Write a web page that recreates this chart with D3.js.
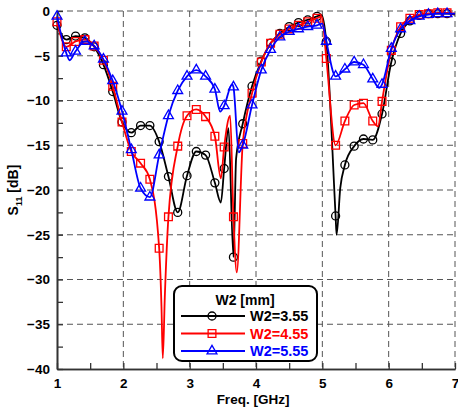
<!DOCTYPE html>
<html>
<head>
<meta charset="utf-8">
<script src="https://cdn.jsdelivr.net/npm/d3@7"></script>
<style>
    body { margin: 0; background: #fff; }
    svg { display: block; font-family: Arial, "Liberation Sans", sans-serif; font-weight: bold; }
</style>
</head>
<body>
<svg id="chart" width="458" height="407"></svg>
<script>
// frequencies where the markers sit (GHz)
const markerFreqs = [1.00, 1.14, 1.28, 1.42, 1.56, 1.70, 1.84, 1.98, 2.12, 2.26, 2.40,
    2.54, 2.68, 2.82, 2.96, 3.10, 3.24, 3.38, 3.52, 3.66, 3.80, 3.94, 4.08, 4.22,
    4.36, 4.50, 4.64, 4.78, 4.92, 5.06, 5.20, 5.34, 5.48, 5.62, 5.76, 5.90, 6.04,
    6.18, 6.32, 6.46, 6.60, 6.74, 6.88];

// S11 (dB) at the marker frequencies
const s11W355 = [-1.6, -3.2, -2.8, -3.0, -4.0, -6.0, -9.0, -12.4, -13.6, -12.8, -12.8,
    -14.6, -18.5, -22.5, -18.4, -15.7, -16.1, -19.2, -17.6, -27.5, -12.6, -8.4, -5.6, -3.6,
    -2.5, -1.75, -1.3, -1.0, -0.6, -3.4, -22.9, -17.2, -15.1, -14.3, -14.4, -11.5, -5.7,
    -2.5, -1.1, -0.5, -0.3, -0.3, -0.3];
const s11W455 = [-1.2, -4.0, -3.4, -3.2, -3.9, -5.5, -8.4, -12.4, -15.7, -17.0, -18.8,
    -26.5, -23.0, -15.1, -11.7, -11.0, -11.8, -14.0, -15.2, -23.0, -14.8, -9.2, -5.7, -3.6,
    -2.6, -2.0, -1.6, -1.2, -0.8, -5.3, -15.0, -12.3, -10.5, -10.3, -12.3, -10.1, -4.4,
    -1.75, -0.8, -0.4, -0.3, -0.2, -0.2];
const s11W555 = [-0.6, -4.7, -4.5, -3.4, -3.9, -5.4, -7.8, -11.2, -15.5, -19.8, -20.8,
    -16.1, -11.7, -8.9, -7.3, -6.6, -7.3, -8.75, -10.6, -8.5, -15.0, -10.5, -6.6, -4.3,
    -2.9, -2.3, -2.0, -1.75, -1.6, -3.4, -7.3, -6.5, -5.7, -6.0, -7.6, -8.2, -4.2,
    -2.0, -1.1, -0.6, -0.4, -0.3, -0.3];

// sharp features between markers [GHz, dB]
const extraW355 = [[3.47, -21.4], [3.585, -13.1], [3.70, -16.5], [4.99, -0.45],
    [5.215, -25.0], [5.27, -19.8], [7.0, -0.4]];
const extraW455 = [[2.575, -33.0], [2.595, -38.8], [2.625, -32.0], [3.47, -18.7],
    [3.61, -11.7], [3.71, -29.2], [4.99, -0.6], [5.84, -12.9], [7.0, -0.3]];
const extraW555 = [[1.19, -5.5], [3.46, -11.25], [3.64, -8.2], [3.74, -15.8],
    [5.0, -1.4], [5.86, -8.6], [7.0, -0.3]];

const seriesNames = ['W2=3.55', 'W2=4.55', 'W2=5.55'];
const xTicks = [1, 2, 3, 4, 5, 6, 7];
const xMinorTicks = [1.5, 2.5, 3.5, 4.5, 5.5, 6.5];
const yTicks = [-40, -35, -30, -25, -20, -15, -10, -5, 0];
const yMinorTicks = [-37.5, -32.5, -27.5, -22.5, -17.5, -12.5, -7.5, -2.5];

const series = [
    { name: seriesNames[0], values: s11W355, extra: extraW355, color: '#000000', marker: 'circle' },
    { name: seriesNames[1], values: s11W455, extra: extraW455, color: '#ff0000', marker: 'square' },
    { name: seriesNames[2], values: s11W555, extra: extraW555, color: '#0000ff', marker: 'triangle' }
];

const svg = d3.select('#chart');
const x = d3.scaleLinear().domain([1, 7]).range([57, 455]);
const y = d3.scaleLinear().domain([-40, 0]).range([369, 11]);

// grid
const grid = svg.append('g')
    .attr('stroke', '#555')
    .attr('stroke-width', 1)
    .attr('stroke-dasharray', '6,4');
grid.selectAll('.vg')
    .data(xTicks.slice(1))
    .enter()
    .append('line')
    .attr('x1', d => x(d)).attr('x2', d => x(d))
    .attr('y1', y(0)).attr('y2', y(-40));
grid.selectAll('.hg')
    .data(yTicks.slice(1))
    .enter()
    .append('line')
    .attr('x1', x(1)).attr('x2', x(7))
    .attr('y1', d => y(d)).attr('y2', d => y(d));

// axes
function styleAxis(g) {
    g.select('.domain').attr('stroke', '#333').attr('stroke-width', 1.6);
    g.selectAll('.tick line').attr('stroke', '#333').attr('stroke-width', 1.3);
    g.selectAll('text')
        .attr('fill', '#000')
        .style('font-size', '13.5px')
        .style('font-weight', 'bold')
        .style('font-family', 'Arial, "Liberation Sans", sans-serif');
}

svg.append('g')
    .attr('transform', `translate(${x(1)},0)`)
    .call(d3.axisLeft(y).tickValues(yMinorTicks).tickSize(-6).tickSizeOuter(0).tickFormat(''))
    .call(styleAxis);
svg.append('g')
    .attr('transform', `translate(${x(1)},0)`)
    .call(d3.axisLeft(y).tickValues(yTicks).tickSize(-6).tickSizeOuter(0).tickPadding(7)
        .tickFormat(d3.format('d')))
    .call(styleAxis);

svg.append('g')
    .attr('transform', `translate(0,${y(-40)})`)
    .call(d3.axisBottom(x).tickValues(xMinorTicks).tickSize(-6).tickSizeOuter(0).tickFormat(''))
    .call(styleAxis);
svg.append('g')
    .attr('transform', `translate(0,${y(-40)})`)
    .call(d3.axisBottom(x).tickValues(xTicks).tickSize(-6).tickSizeOuter(0).tickPadding(9)
        .tickFormat(d3.format('d')))
    .call(styleAxis);

// axis titles
svg.append('text')
    .attr('x', 253)
    .attr('y', 404)
    .attr('text-anchor', 'middle')
    .style('font-size', '13.5px')
    .text('Freq. [GHz]');

const yTitle = svg.append('text')
    .attr('transform', 'translate(18,190) rotate(-90)')
    .attr('text-anchor', 'middle')
    .style('font-size', '14px');
yTitle.append('tspan').text('S');
yTitle.append('tspan').attr('dy', 4).style('font-size', '9px').text('11');
yTitle.append('tspan').attr('dy', -4).text(' [dB]');

// markers
function drawMarker(g, type, cx, cy, color) {
    if (type === 'circle') {
        g.append('circle').attr('cx', cx).attr('cy', cy).attr('r', 4)
            .attr('fill', 'none').attr('stroke', color).attr('stroke-width', 1.3);
    } else {
        const sym = type === 'square' ? d3.symbolSquare : d3.symbolTriangle;
        const size = type === 'square' ? 60 : 42;
        g.append('path')
            .attr('d', d3.symbol().type(sym).size(size)())
            .attr('transform', `translate(${cx},${cy})`)
            .attr('fill', 'none').attr('stroke', color).attr('stroke-width', 1.3);
    }
}

const line = d3.line()
    .x(d => x(d[0]))
    .y(d => y(d[1]))
    .curve(d3.curveMonotoneX);

series.forEach(s => {
    const pts = markerFreqs.map((f, i) => [f, s.values[i]])
        .concat(s.extra)
        .sort((a, b) => a[0] - b[0]);

    const g = svg.append('g');
    g.append('path')
        .datum(pts)
        .attr('fill', 'none')
        .attr('stroke', s.color)
        .attr('stroke-width', 1.8)
        .attr('stroke-linejoin', 'round')
        .attr('d', line);

    markerFreqs.forEach((f, i) => drawMarker(g, s.marker, x(f), y(s.values[i]), s.color));
});

// legend
const legend = svg.append('g');
legend.append('rect')
    .attr('x', 174).attr('y', 286)
    .attr('width', 143).attr('height', 75)
    .attr('rx', 8).attr('ry', 8)
    .attr('fill', '#fff')
    .attr('stroke', '#000')
    .attr('stroke-width', 2);
legend.append('text')
    .attr('x', 245).attr('y', 305)
    .attr('text-anchor', 'middle')
    .style('font-size', '14px')
    .text('W2 [mm]');

series.forEach((s, i) => {
    const ly = 316 + i * 17.5;
    legend.append('line')
        .attr('x1', 181).attr('x2', 245)
        .attr('y1', ly).attr('y2', ly)
        .attr('stroke', s.color)
        .attr('stroke-width', 1.8);
    drawMarker(legend, s.marker, 212, ly, s.color);
    legend.append('text')
        .attr('x', 250).attr('y', ly)
        .attr('dy', '0.36em')
        .attr('fill', s.color)
        .style('font-size', '14.5px')
        .text(s.name);
});
</script>
</body>
</html>
